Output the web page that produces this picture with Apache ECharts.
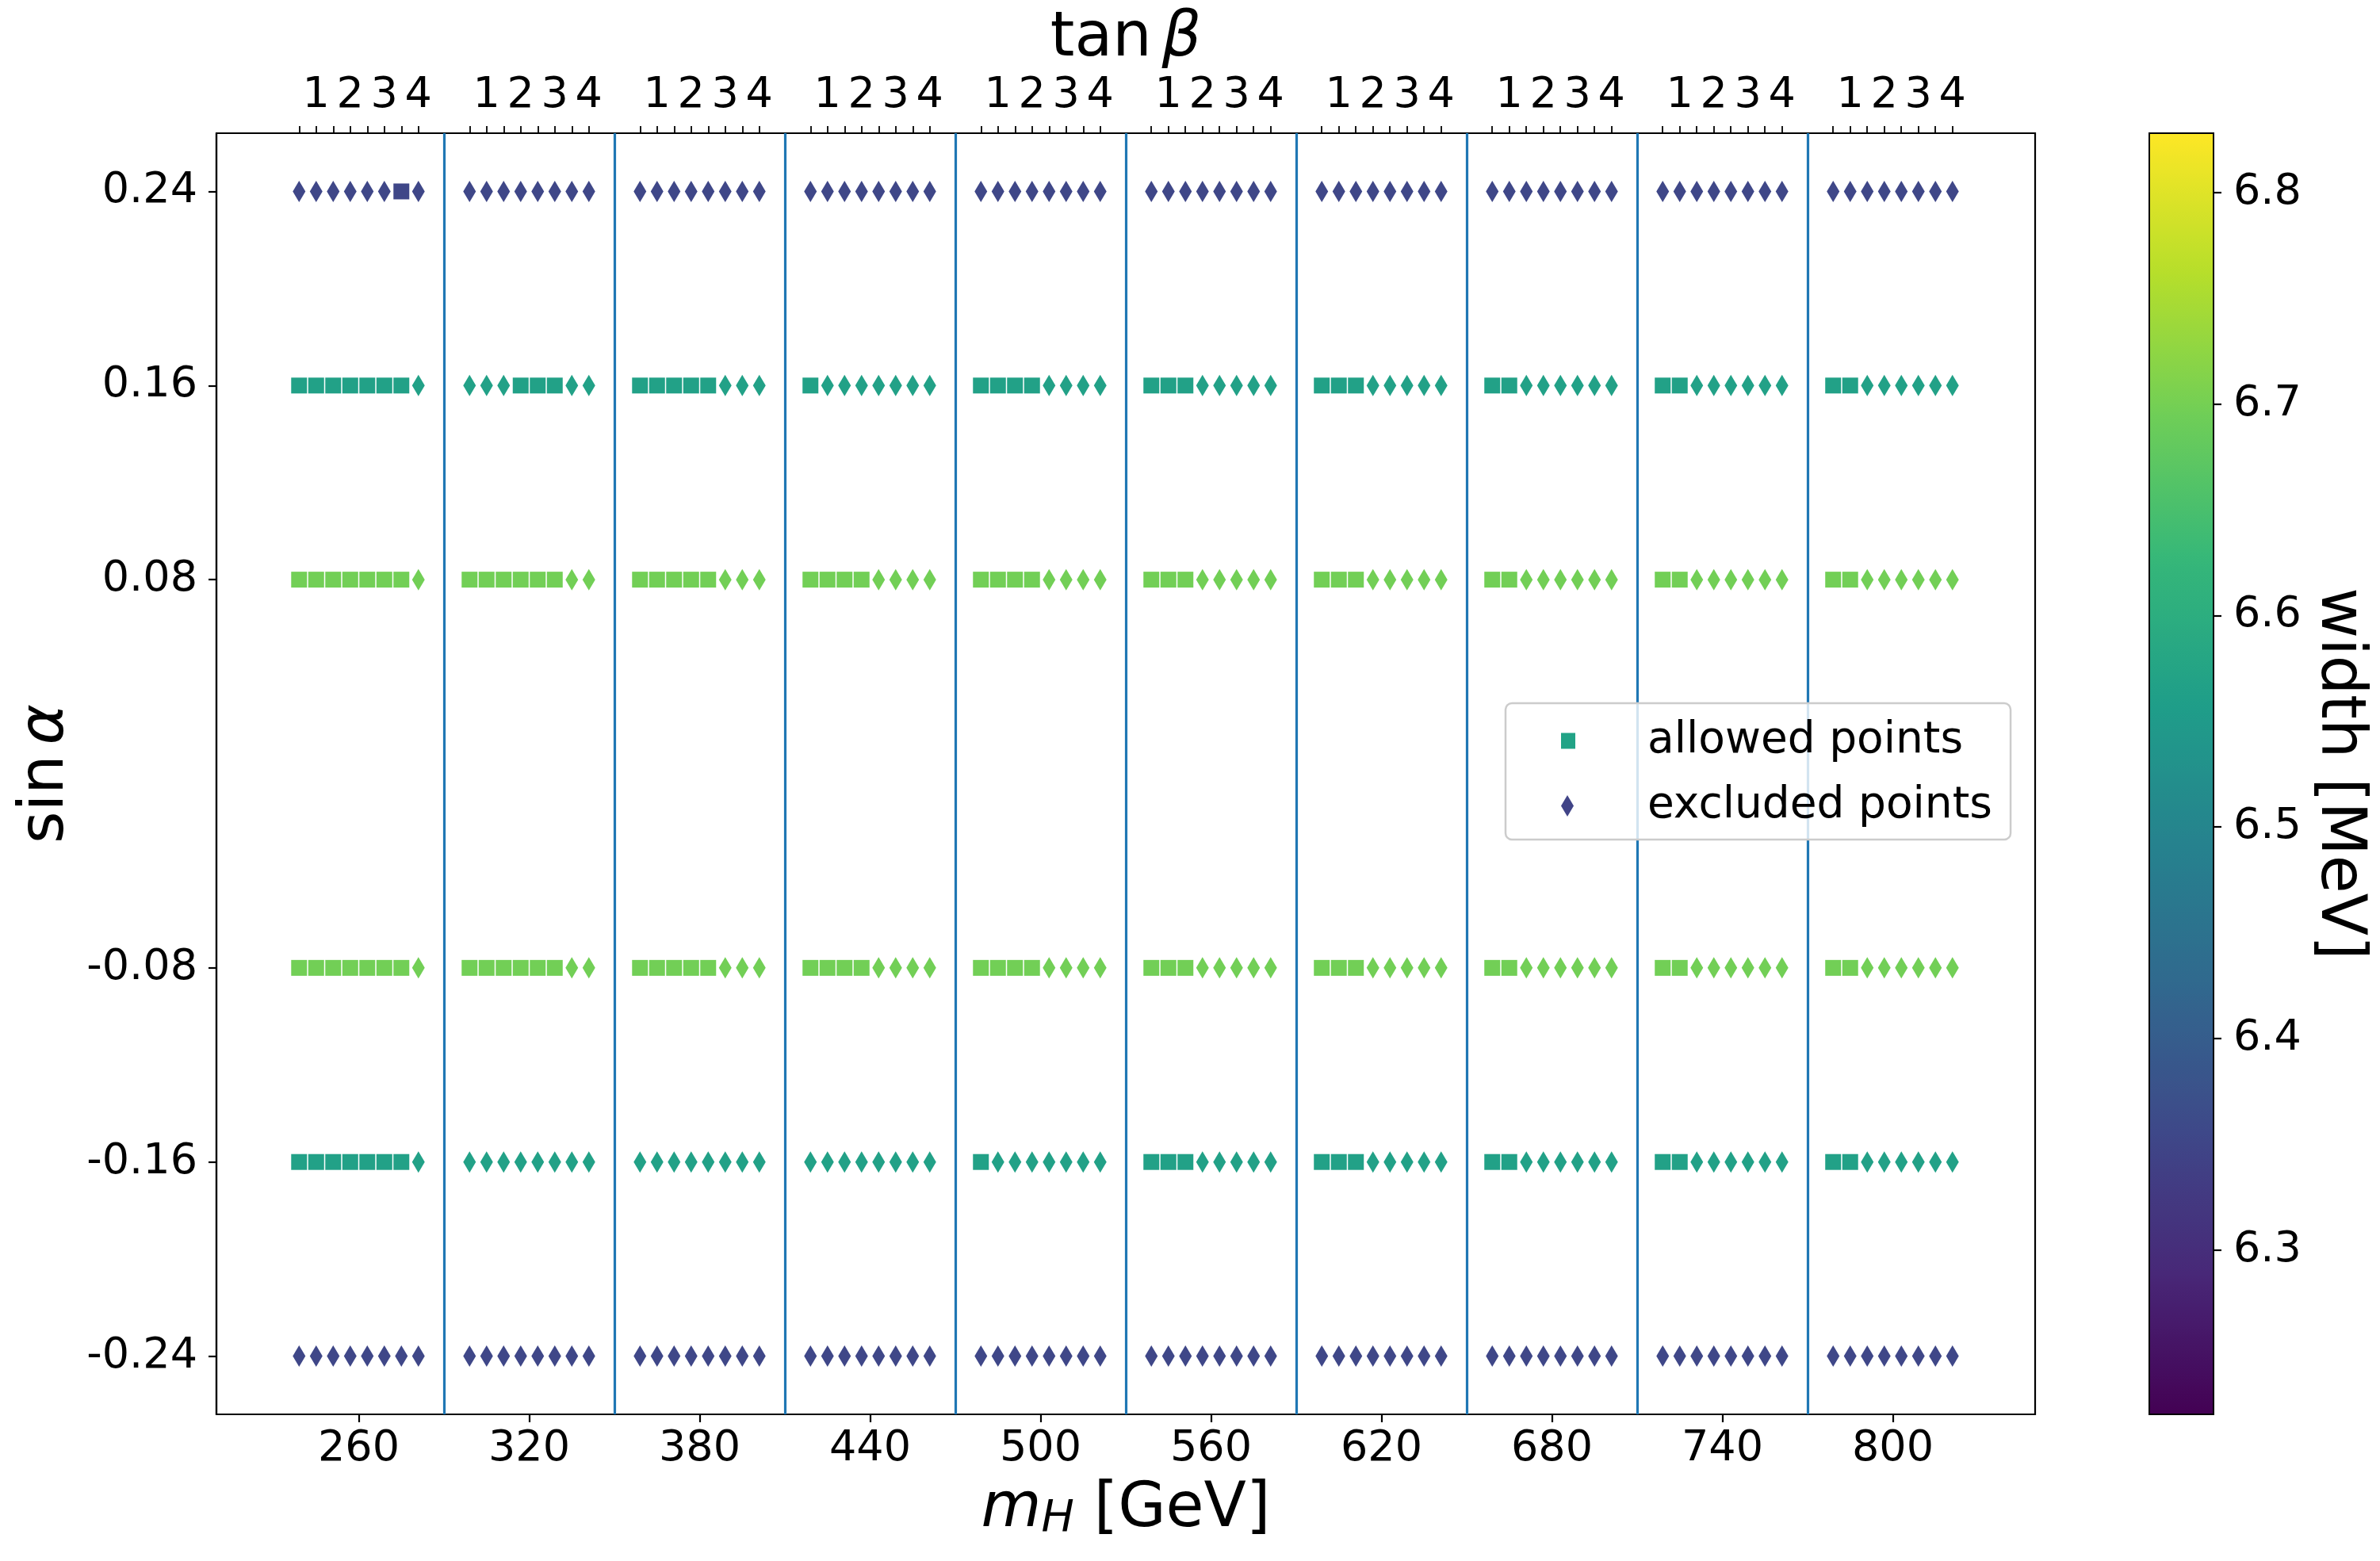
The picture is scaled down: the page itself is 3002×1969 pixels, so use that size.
<!DOCTYPE html>
<html>
<head>
<meta charset="utf-8">
<script src="https://cdn.jsdelivr.net/npm/echarts@6/dist/echarts.min.js"></script>
<style>
html,body{margin:0;padding:0;background:#ffffff;}
#chart{width:3002px;height:1969px;}
</style>
</head>
<body>
<div id="chart"></div>
<script>
// ---------------- data ----------------
const mH = [260, 320, 380, 440, 500, 560, 620, 680, 740, 800];
const tanBeta = [0.5, 1, 1.5, 2, 2.5, 3, 3.5, 4];
const tanBetaLabels = [1, 2, 3, 4];
const sinAlpha = [0.24, 0.16, 0.08, -0.08, -0.16, -0.24];
const widthMeV = [6.352, 6.568, 6.697, 6.697, 6.568, 6.352]; // one per sinAlpha row
// '1' = allowed, '0' = excluded, one character per tanBeta, one string per mH
const allowed_p024 = ['00000010','00000000','00000000','00000000','00000000','00000000','00000000','00000000','00000000','00000000'];
const allowed_p016 = ['11111110','00011100','11111000','10000000','11110000','11100000','11100000','11000000','11000000','11000000'];
const allowed_p008 = ['11111110','11111100','11111000','11110000','11110000','11100000','11100000','11000000','11000000','11000000'];
const allowed_m008 = ['11111110','11111100','11111000','11110000','11110000','11100000','11100000','11000000','11000000','11000000'];
const allowed_m016 = ['11111110','00000000','00000000','00000000','10000000','11100000','11100000','11000000','11000000','11000000'];
const allowed_m024 = ['00000000','00000000','00000000','00000000','00000000','00000000','00000000','00000000','00000000','00000000'];
const colorbarTicks = [6.3, 6.4, 6.5, 6.6, 6.7, 6.8];
const colorbarMin = 6.2224, colorbarMax = 6.828;
const seriesNames = ['allowed points', 'excluded points'];

// ---------------- build ----------------
const FONT = 'DejaVu Sans';
const viridis = ['#440154','#482878','#3e4989','#31688e','#26828e','#1f9e89','#35b779','#6ece58','#b5de2b','#fde725'];
const allowedRows = [allowed_p024, allowed_p016, allowed_p008, allowed_m008, allowed_m016, allowed_m024];
const GeVPerTanBeta = 12, tanBetaCentre = 2.25;
const markerX = (m, tb) => m + (tb - tanBetaCentre) * GeVPerTanBeta;

const allowedPts = [], excludedPts = [];
sinAlpha.forEach((sa, r) => {
  mH.forEach((m, g) => {
    tanBeta.forEach((tb, k) => {
      const p = [markerX(m, tb), sa, widthMeV[r]];
      (allowedRows[r][g][k] === '1' ? allowedPts : excludedPts).push(p);
    });
  });
});
const boundaries = mH.slice(0, -1).map((m, i) => (m + mH[i + 1]) / 2);

const topTickValues = [];
mH.forEach(m => tanBeta.forEach(tb => topTickValues.push(markerX(m, tb))));
const topLabelValues = [], topLabelMap = {};
mH.forEach(m => tanBetaLabels.forEach(tb => {
  const v = markerX(m, tb);
  topLabelValues.push(v);
  topLabelMap[v.toFixed(3)] = String(tb);
}));

const xMin = 209.9, xMax = 850.1, yMin = -0.264, yMax = 0.264;
const black = '#000000';
const axisLineStyle = {color: black, width: 2.2};

const chart = echarts.init(document.getElementById('chart'), null, {renderer: 'canvas'});
chart.setOption({
  animation: false,
  backgroundColor: '#ffffff',
  textStyle: {fontFamily: FONT, color: black},
  grid: [
    {left: 273, top: 168, width: 2294, height: 1616, show: true, borderColor: black, borderWidth: 2.2, backgroundColor: 'transparent'},
    {left: 2711, top: 168, width: 81, height: 1616, show: true, borderColor: black, borderWidth: 2, backgroundColor: 'transparent', z: 10}
  ],
  xAxis: [
    {
      type: 'value', gridIndex: 0, position: 'bottom', min: xMin, max: xMax,
      axisLine: {show: true, onZero: false, lineStyle: axisLineStyle},
      axisTick: {show: true, customValues: mH, length: 10, lineStyle: axisLineStyle},
      axisLabel: {customValues: mH, fontSize: 54, color: black, fontFamily: FONT, margin: 17},
      splitLine: {show: false},
      name: '{i|m}{s|H}{n| [GeV]}', nameLocation: 'middle', nameGap: 82,
      nameTextStyle: {
        fontFamily: FONT, color: black, fontSize: 78,
        rich: {
          i: {fontFamily: FONT, fontStyle: 'italic', fontSize: 78, color: black},
          s: {fontFamily: FONT, fontStyle: 'italic', fontSize: 55, color: black, verticalAlign: 'bottom', lineHeight: 42},
          n: {fontFamily: FONT, fontSize: 78, color: black}
        }
      }
    },
    {
      type: 'value', gridIndex: 0, position: 'top', min: xMin, max: xMax,
      axisLine: {show: true, onZero: false, lineStyle: axisLineStyle},
      axisTick: {show: true, customValues: topTickValues, length: 9, lineStyle: {color: black, width: 1.8}},
      axisLabel: {customValues: topLabelValues, formatter: v => topLabelMap[v.toFixed(3)] || '', fontSize: 54, color: black, fontFamily: FONT, margin: 20},
      splitLine: {show: false},
      name: '{n|tan}{sp| }{b|β}', nameLocation: 'middle', nameGap: 64,
      nameTextStyle: {
        fontFamily: FONT, color: black, fontSize: 78,
        rich: {
          n: {fontFamily: FONT, fontSize: 78, color: black},
          sp: {fontFamily: FONT, fontSize: 40, color: black},
          b: {fontFamily: FONT, fontStyle: 'italic', fontSize: 78, color: black}
        }
      }
    },
    {type: 'value', gridIndex: 1, show: false, min: 0, max: 1}
  ],
  yAxis: [
    {
      type: 'value', gridIndex: 0, min: yMin, max: yMax,
      axisLine: {show: true, onZero: false, lineStyle: axisLineStyle},
      axisTick: {show: true, customValues: sinAlpha, length: 10, lineStyle: axisLineStyle},
      axisLabel: {customValues: sinAlpha, formatter: v => v.toFixed(2), fontSize: 54, color: black, fontFamily: FONT, margin: 24},
      splitLine: {show: false},
      name: '{n|sin}{sp| }{a|α}', nameLocation: 'middle', nameGap: 175,
      nameTextStyle: {
        fontFamily: FONT, color: black, fontSize: 78,
        rich: {
          n: {fontFamily: FONT, fontSize: 78, color: black},
          sp: {fontFamily: FONT, fontSize: 40, color: black},
          a: {fontFamily: FONT, fontStyle: 'italic', fontSize: 78, color: black}
        }
      }
    },
    {
      type: 'value', gridIndex: 1, position: 'right', min: colorbarMin, max: colorbarMax,
      axisLine: {show: false, onZero: false},
      axisTick: {show: true, customValues: colorbarTicks, length: 10, lineStyle: axisLineStyle},
      axisLabel: {customValues: colorbarTicks, formatter: v => v.toFixed(1), fontSize: 54, color: black, fontFamily: FONT, margin: 25},
      splitLine: {show: false},
      name: 'width [MeV]', nameLocation: 'middle', nameGap: 118, nameRotate: -90,
      nameTextStyle: {fontFamily: FONT, color: black, fontSize: 78}
    }
  ],
  visualMap: {
    type: 'continuous', min: colorbarMin, max: colorbarMax, dimension: 2, seriesIndex: [0, 1],
    inRange: {color: viridis}, orient: 'vertical', left: 2711, top: 168,
    itemWidth: 81, itemHeight: 1616, padding: 0, calculable: false, hoverLink: false, text: null
  },
  legend: [
    {
      data: [{name: seriesNames[0], icon: 'rect', itemStyle: {color: '#21a386', opacity: 1}}],
      orient: 'vertical', left: 1899, top: 887, itemWidth: 18, itemHeight: 20, symbolKeepAspect: false,
      padding: [20, 60, 97, 70], backgroundColor: 'rgba(255,255,255,0.8)', borderColor: '#cccccc', borderWidth: 2.5, borderRadius: 8,
      selectedMode: false, z: 6,
      textStyle: {fontSize: 55, color: black, fontFamily: FONT, padding: [0, 0, 0, 86]}
    },
    {
      data: [{name: seriesNames[1], icon: 'diamond', itemStyle: {color: '#414487', opacity: 1}}],
      orient: 'vertical', left: 1969, top: 989, itemWidth: 16, itemHeight: 27, symbolKeepAspect: false,
      padding: 0, selectedMode: false, z: 7,
      textStyle: {fontSize: 55, color: black, fontFamily: FONT, padding: [0, 0, 0, 88]}
    }
  ],
  series: [
    {
      name: seriesNames[0], type: 'scatter', xAxisIndex: 0, yAxisIndex: 0,
      symbol: 'rect', symbolSize: [20, 20], data: allowedPts, silent: true,
      itemStyle: {opacity: 1},
      markLine: {
        silent: true, symbol: ['none', 'none'], label: {show: false},
        lineStyle: {color: '#1f77b4', width: 3.2, type: 'solid', opacity: 1},
        data: boundaries.map(b => ({xAxis: b}))
      }
    },
    {
      name: seriesNames[1], type: 'scatter', xAxisIndex: 0, yAxisIndex: 0,
      symbol: 'diamond', symbolSize: [16, 27], data: excludedPts, silent: true,
      itemStyle: {opacity: 1}
    }
  ]
});
</script>
</body>
</html>
